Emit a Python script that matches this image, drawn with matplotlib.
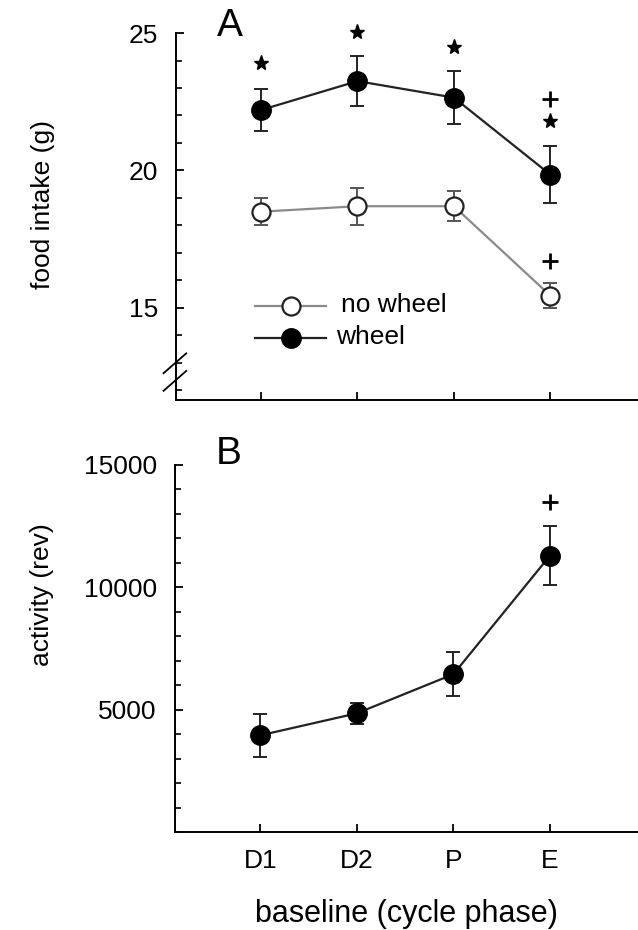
import matplotlib
matplotlib.use("Agg")
import matplotlib.pyplot as plt
from matplotlib.ticker import MultipleLocator

plt.rcParams['font.family'] = ['Liberation Sans', 'DejaVu Sans']

# data
phases = ['D1', 'D2', 'P', 'E']
xpos = [1, 2, 3, 4]

wheel_intake = [22.2, 23.25, 22.65, 19.85]
wheel_err = [0.75, 0.9, 0.95, 1.05]
nowheel_intake = [18.5, 18.7, 18.7, 15.45]
nowheel_err = [0.5, 0.67, 0.55, 0.45]

activity = [3950, 4850, 6450, 11300]
activity_err = [880, 420, 900, 1190]

# significance marks: stars above wheel points, plus marks
star_x = [1, 2, 3, 4]
star_y = [23.9, 25.05, 24.5, 21.8]
plusA_x = [4, 4]
plusA_y = [22.6, 16.7]
plusB_x = [4]
plusB_y = [13500]

fig = plt.figure(figsize=(6.38, 9.30), dpi=100)

axA = fig.add_axes([0.2759, 0.5699, 0.7241, 0.3946])
axB = fig.add_axes([0.2743, 0.1054, 0.7257, 0.3946])

for ax in (axA, axB):
    ax.spines['top'].set_visible(False)
    ax.spines['right'].set_visible(False)
    ax.spines['left'].set_linewidth(1.4)
    ax.spines['bottom'].set_linewidth(1.4)
    ax.set_xlim(0.118, 4.91)
    ax.set_xticks(xpos)
    ax.tick_params(direction='in', length=6, width=1.3, labelsize=19)
    ax.tick_params(axis='y', pad=13)
    ax.tick_params(which='minor', direction='in', length=4, width=1.2)

# Panel A
axA.plot(xpos, nowheel_intake, color='#8a8a8a', lw=1.6, zorder=2)
axA.errorbar(xpos, nowheel_intake, yerr=nowheel_err, fmt='none', ecolor='#555555',
             elinewidth=1.4, capsize=5, capthick=1.4, zorder=2)
axA.plot(xpos, nowheel_intake, 'o', ms=13, mfc='white', mec='#222222', mew=1.6,
         zorder=3)
axA.plot(xpos, wheel_intake, color='#222222', lw=1.6, zorder=2)
axA.errorbar(xpos, wheel_intake, yerr=wheel_err, fmt='none', ecolor='#222222',
             elinewidth=1.4, capsize=5, capthick=1.4, zorder=2)
axA.plot(xpos, wheel_intake, 'o', ms=14, mfc='black', mec='black', zorder=3)

axA.plot(star_x, star_y, '*', ms=11, color='black', clip_on=False, zorder=4)
axA.plot(plusA_x, plusA_y, '+', ms=12, mew=2, color='black', clip_on=False, zorder=4)

axA.set_ylim(11.65, 25)
axA.set_yticks([15, 20, 25])
axA.yaxis.set_minor_locator(MultipleLocator(1))
axA.set_xticklabels([])
axA.set_ylabel('food intake (g)', fontsize=19)
axA.yaxis.set_label_coords(-0.262, 0.534)
axA.text(0.117, 1.02, 'A', transform=axA.transAxes, fontsize=28, ha='center',
         va='center')

# legend drawn by hand in axes coordinates
axA.plot([0.17, 0.325], [0.255, 0.255], color='#8a8a8a', lw=1.6,
         transform=axA.transAxes)
axA.plot([0.248], [0.255], 'o', ms=13, mfc='white', mec='#222222', mew=1.6,
         transform=axA.transAxes)
axA.plot([0.17, 0.325], [0.17, 0.17], color='#222222', lw=1.6,
         transform=axA.transAxes)
axA.plot([0.248], [0.17], 'o', ms=14, mfc='black', mec='black',
         transform=axA.transAxes)
axA.text(0.358, 0.26, 'no wheel', transform=axA.transAxes, fontsize=19,
         va='center')
axA.text(0.347, 0.172, 'wheel', transform=axA.transAxes, fontsize=19,
         va='center')

# axis break marks
for yb in (0.052, 0.10):
    axA.plot([-0.027, 0.022], [yb - 0.027, yb + 0.027], color='black', lw=1.3,
             transform=axA.transAxes, clip_on=False)

# Panel B
axB.plot(xpos, activity, color='#222222', lw=1.6, zorder=2)
axB.errorbar(xpos, activity, yerr=activity_err, fmt='none', ecolor='#222222',
             elinewidth=1.4, capsize=5, capthick=1.4, zorder=2)
axB.plot(xpos, activity, 'o', ms=14, mfc='black', mec='black', zorder=3)
axB.plot(plusB_x, plusB_y, '+', ms=12, mew=2, color='black', zorder=4)

axB.set_ylim(0, 15000)
axB.set_yticks([5000, 10000, 15000])
axB.yaxis.set_minor_locator(MultipleLocator(1000))
axB.set_xticklabels(phases)
axB.tick_params(axis='x', pad=12)
axB.set_ylabel('activity (rev)', fontsize=19)
axB.yaxis.set_label_coords(-0.262, 0.646)
axB.set_xlabel('baseline (cycle phase)', fontsize=22, labelpad=19)
axB.text(0.117, 1.03, 'B', transform=axB.transAxes, fontsize=28, ha='center',
         va='center')

fig.savefig('out.png', dpi=100)
